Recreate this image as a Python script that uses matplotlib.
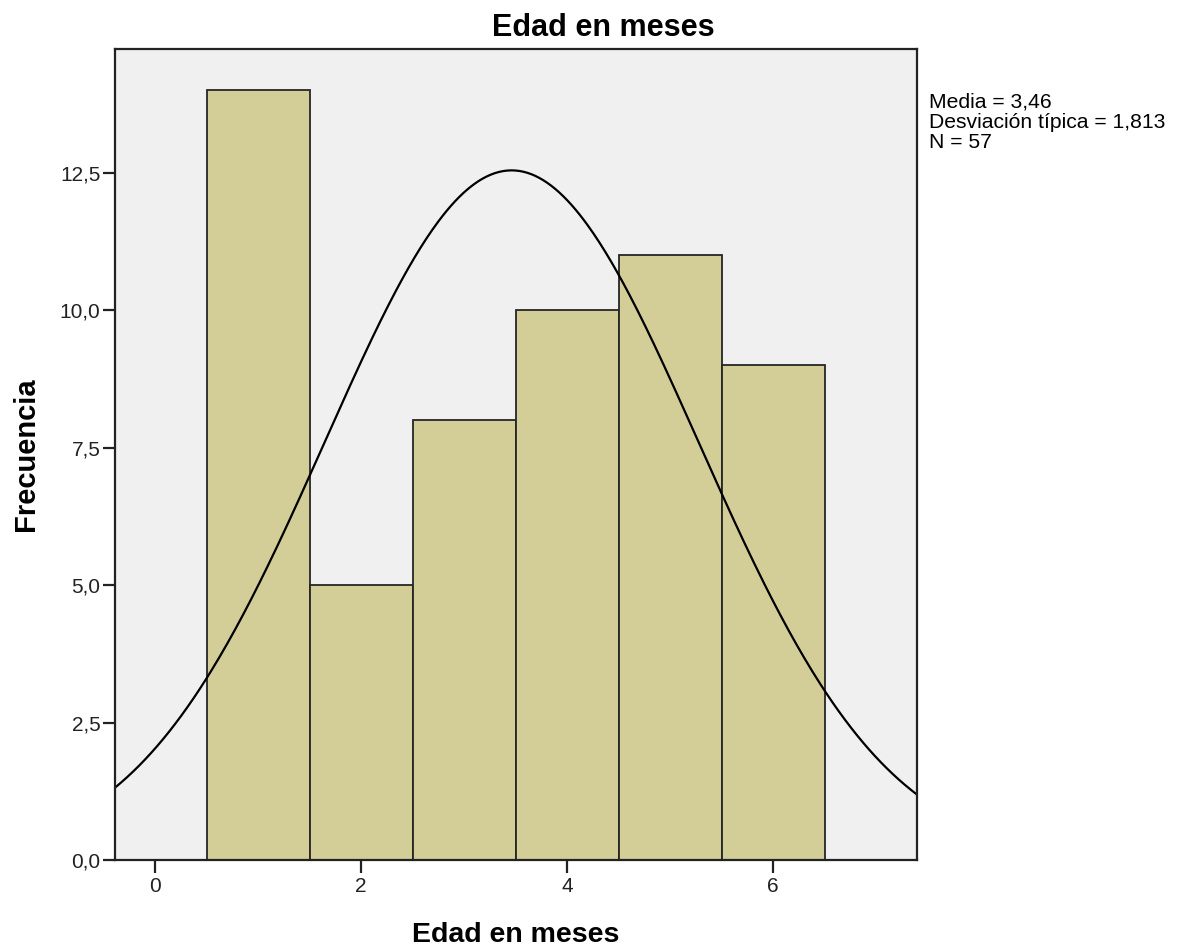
import matplotlib
matplotlib.use("Agg")
import matplotlib.pyplot as plt
import numpy as np

plt.rcParams['font.family'] = ['Liberation Sans', 'DejaVu Sans']

# histogram data
edades = [1, 2, 3, 4, 5, 6]
frecuencias = [14, 5, 8, 10, 11, 9]
media = 3.46
desviacion = 1.813
n = 57

y_ticks = [0, 2.5, 5.0, 7.5, 10.0, 12.5]
y_labels = ['0,0', '2,5', '5,0', '7,5', '10,0', '12,5']
x_ticks = [0, 2, 4, 6]

W, H = 1182, 950
fig = plt.figure(figsize=(W / 100, H / 100), dpi=100)
ax = fig.add_axes([115 / W, 1 - 860 / H, (917 - 115) / W, (860 - 49) / H])
ax.set_facecolor('#F0F0F0')

# bars
ax.bar(edades, frecuencias, width=1.0, color='#D3CE98', edgecolor='#262626', linewidth=1.3)

# normal curve
xlim = (-0.39, 7.395)
xs = np.linspace(xlim[0], xlim[1], 400)
ys = n * 1.0 / (desviacion * np.sqrt(2 * np.pi)) * np.exp(-0.5 * ((xs - media) / desviacion) ** 2)
ax.plot(xs, ys, color='black', linewidth=1.6)

ax.set_xlim(xlim)
ax.set_ylim(0, 14.75)
ax.set_xticks(x_ticks)
ax.set_xticklabels([str(t) for t in x_ticks])
ax.set_yticks(y_ticks)
ax.set_yticklabels(y_labels)
ax.tick_params(axis='both', direction='out', length=9, width=1.6, labelsize=15, colors='#222222')
ax.tick_params(axis='x', pad=3)
ax.tick_params(axis='y', pad=1.5)

for s in ax.spines.values():
    s.set_linewidth(1.6)
    s.set_color('#222222')

# title and axis labels
fig.text(603 / W, 1 - 36 / H, 'Edad en meses', fontsize=22, fontweight='bold',
         ha='center', va='baseline')
fig.text(516 / W, 1 - 942 / H, 'Edad en meses', fontsize=20.5, fontweight='bold',
         ha='center', va='baseline')
fig.text(26 / W, 1 - 454 / H, 'Frecuencia', fontsize=21, fontweight='bold',
         ha='center', va='center', rotation=90)

fig.text(929 / W, 1 - 93 / H,
         'Media = 3,46\nDesviación típica = 1,813\nN = 57',
         fontsize=15.2, va='top', ha='left', linespacing=1.05)

plt.savefig('out.png', dpi=100)
